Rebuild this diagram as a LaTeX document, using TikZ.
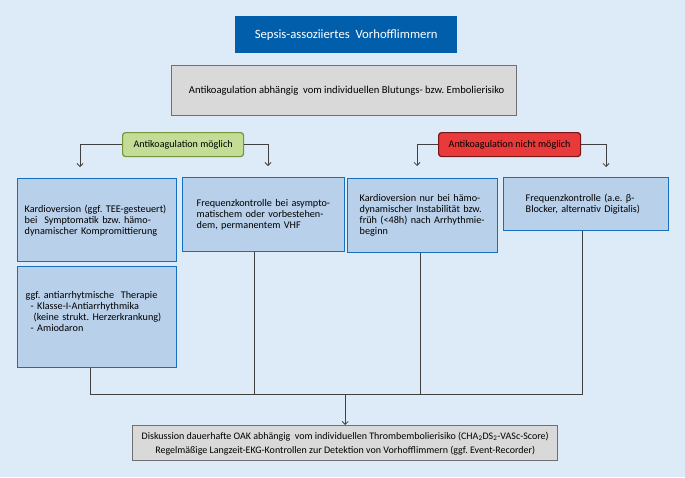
\documentclass[tikz,border=0pt]{standalone}
\usepackage{fontspec}
\setmainfont{Carlito}
\usepackage{tikz}
\usetikzlibrary{arrows.meta, positioning}
\frenchspacing

\definecolor{hinter}{RGB}{221,235,248}
\definecolor{titelblau}{RGB}{0,94,170}
\definecolor{boxblau}{RGB}{185,208,234}
\definecolor{randblau}{RGB}{22,110,190}
\definecolor{grau}{RGB}{217,217,217}
\definecolor{randgrau}{RGB}{112,112,112}
\definecolor{gruen}{RGB}{196,221,150}
\definecolor{randgruen}{RGB}{118,148,58}
\definecolor{rot}{RGB}{232,58,58}
\definecolor{randrot}{RGB}{118,22,22}
\definecolor{linie}{RGB}{64,64,64}

\tikzset{
	massnahme/.style={draw=randblau, fill=boxblau, line width=1.4pt, anchor=north west,
		align=left, inner ysep=0pt, font=\fontsize{10.2}{11}\selectfont},
	grauebox/.style={draw=randgrau, fill=grau, line width=1.4pt, anchor=north west,
		align=center, inner sep=0pt},
	entscheid/.style={rounded corners=3pt, line width=1.2pt, anchor=north west,
		inner sep=0pt, font=\fontsize{10.1}{11}\selectfont},
	verbinder/.style={draw=linie, line width=0.8pt},
	pfeil/.style={verbinder, -{Straight Barb[length=3pt,width=6pt]}}
}

\begin{document}
\begin{tikzpicture}[x=1pt, y=-1pt]
		
		% Hintergrund
		\fill[hinter] (0,0) rectangle (685,477);
		\useasboundingbox (0,0) rectangle (685,477);
		
		% Titel
		\node[fill=titelblau, text=white, anchor=north west, inner sep=0pt,
		minimum width=222, minimum height=37, font=\fontsize{12.7}{14}\selectfont] (titel) at (235,16)
		{Sepsis-assoziiertes\ \ Vorhofflimmern};
		
		% Risikoabwaegung
		\node[grauebox, minimum width=345, minimum height=50, font=\fontsize{10.6}{12}\selectfont] (risiko) at (171,65)
		{\hspace*{5pt}Antikoagulation abhängig\ \ vom individuellen Blutungs- bzw. Embolierisiko};
		
		% Entscheidung Antikoagulation
		\node[entscheid, draw=randgruen, fill=gruen, minimum width=121, minimum height=24] (moeglich) at (122,132)
		{Antikoagulation möglich};
		\node[entscheid, draw=randrot, fill=rot, minimum width=142, minimum height=24] (nichtmoeglich) at (438,132)
		{Antikoagulation nicht möglich};
		
		% Pfeilziele
		\coordinate (zielA) at (80,167);
		\coordinate (zielB) at (268,166);
		\coordinate (zielC) at (417,166);
		\coordinate (zielD) at (606,167);
		
		\draw[pfeil] (moeglich.west) -| (zielA);
		\draw[pfeil] (moeglich.east) -| (zielB);
		\draw[pfeil] (nichtmoeglich.west) -| (zielC);
		\draw[pfeil] (nichtmoeglich.east) -| (zielD);
		
		% Massnahmen
		\node[massnahme, inner xsep=7, text width=145, minimum height=83] (kardioA) at (17,178)
		{Kardioversion (ggf. TEE-gesteuert)\\bei\ \ Symptomatik bzw. hämo-\\dynamischer Kompromittierung};
		\node[massnahme, inner xsep=14, text width=134, minimum height=74] (frequenzB) at (182,177)
		{Frequenzkontrolle bei asympto-\\matischem oder vorbestehen-\\dem, permanentem VHF};
		\node[massnahme, inner xsep=12, text width=126, minimum height=74] (kardioC) at (347,178)
		{Kardioversion nur bei hämo-\\dynamischer Instabilität bzw.\\früh (<48h)\ nach Arrhythmie-\\beginn};
		\node[massnahme, inner xsep=22, text width=121, minimum height=53] (frequenzD) at (503,177)
		{Frequenzkontrolle (a.e. β-\\Blocker, alternativ Digitalis)};
		\node[massnahme, inner xsep=8, text width=143, minimum height=101] (antiarr) at (17,266)
		{ggf. antiarrhytmische\ \ Therapie\\
			\hspace*{5pt}- Klasse-I-Antiarrhythmika\\
			\hspace*{8pt}(keine strukt. Herzerkrankung)\\
			\hspace*{5pt}- Amiodaron\\
			\mbox{}};
		
		% Zusammenfuehrung
		\node[grauebox, minimum width=425, minimum height=35, font=\fontsize{10}{14}\selectfont] (oak) at (132,425)
		{Diskussion dauerhafte OAK abhängig\ \ vom individuellen Thrombembolierisiko (CHA\textsubscript{2}DS\textsubscript{2}-VASc-Score)\\
			Regelmäßige Langzeit-EKG-Kontrollen zur Detektion von Vorhofflimmern (ggf. Event-Recorder)};
		
		\coordinate (sammelA) at (90,394);
		\coordinate (sammelB) at (254,394);
		\coordinate (sammelC) at (420,394);
		\coordinate (sammelD) at (582,394);
		
		\draw[verbinder] (antiarr.south -| sammelA) -- (sammelA) -- (sammelD) -- (frequenzD.south -| sammelD);
		\draw[verbinder] (frequenzB.south -| sammelB) -- (sammelB);
		\draw[verbinder] (kardioC.south -| sammelC) -- (sammelC);
		\draw[pfeil] (oak.north |- sammelA) -- (oak.north);
		
	\end{tikzpicture}
\end{document}
